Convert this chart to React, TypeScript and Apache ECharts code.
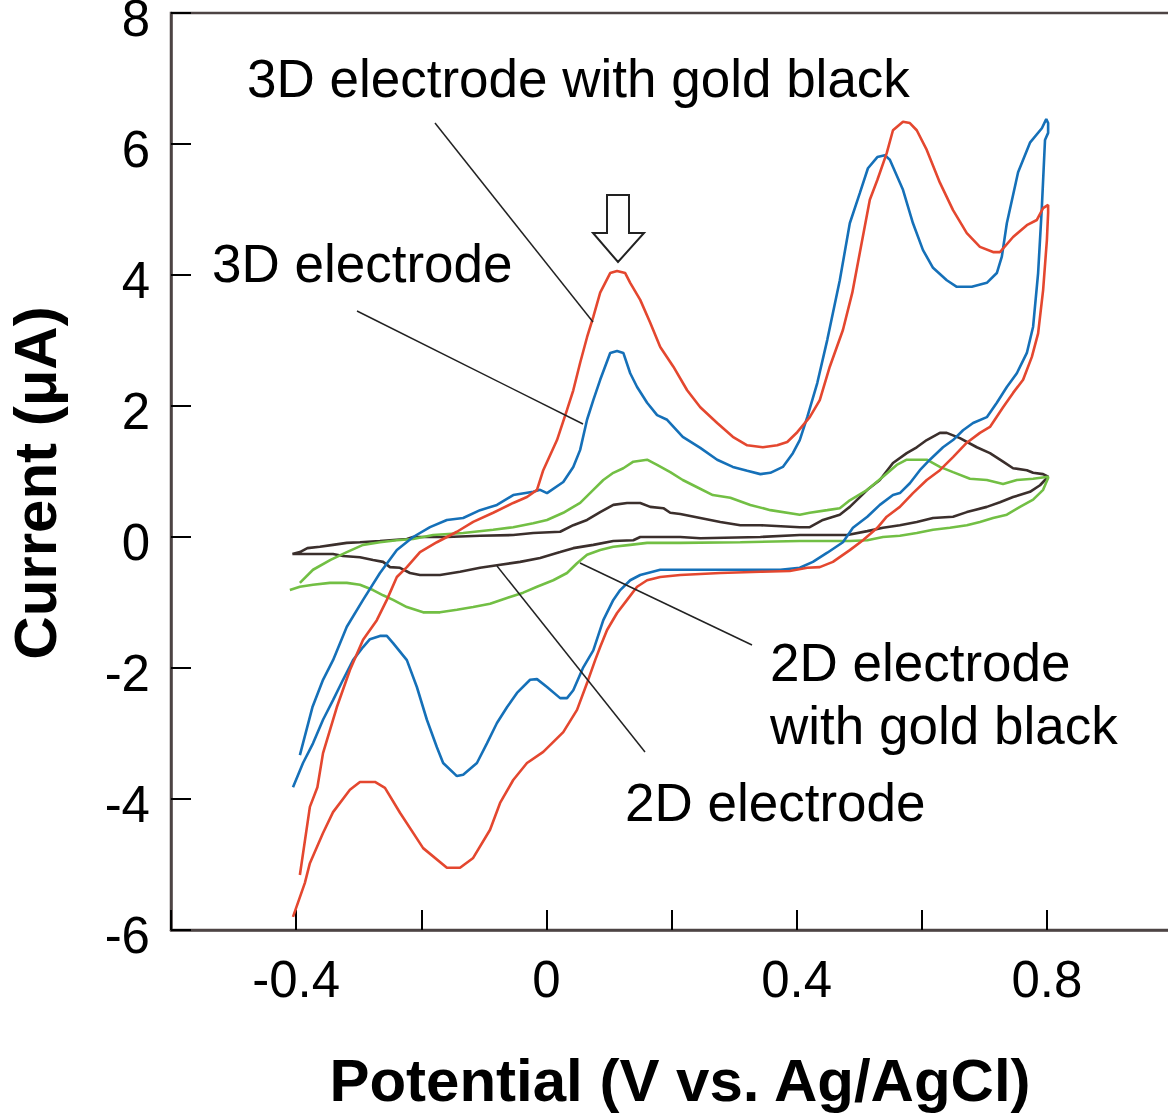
import React, { useEffect, useRef } from "react";
import * as echarts from "echarts";

// Potential (V) vs Current (µA) pairs, forward then reverse scan
const red3DGoldForward: number[][] = [[-0.394,-5.16],[-0.378,-4.12],[-0.366,-3.82],[-0.357,-3.30],[-0.335,-2.60],[-0.314,-2.03],[-0.293,-1.57],[-0.271,-1.27],[-0.255,-0.96],[-0.239,-0.61],[-0.223,-0.46],[-0.202,-0.23],[-0.175,-0.08],[-0.143,0.08],[-0.117,0.23],[-0.085,0.37],[-0.053,0.52],[-0.031,0.61],[-0.015,0.72],[-0.005,1.02],[0.017,1.48],[0.033,1.94],[0.043,2.24],[0.054,2.66],[0.065,3.05],[0.075,3.36],[0.086,3.73],[0.102,4.03],[0.113,4.06],[0.126,4.03],[0.134,3.88],[0.150,3.62],[0.166,3.27],[0.182,2.90],[0.203,2.60],[0.225,2.24],[0.246,1.98],[0.273,1.74],[0.298,1.53],[0.321,1.40],[0.346,1.37],[0.369,1.40],[0.385,1.45],[0.401,1.60],[0.421,1.83],[0.437,2.09],[0.453,2.60],[0.474,3.16],[0.489,3.73],[0.501,4.34],[0.517,5.15],[0.529,5.45],[0.544,5.86],[0.554,6.21],[0.570,6.34],[0.581,6.32],[0.592,6.21],[0.608,5.91],[0.629,5.41],[0.650,4.99],[0.672,4.64],[0.693,4.43],[0.714,4.35],[0.725,4.35],[0.746,4.58],[0.768,4.76],[0.784,4.84],[0.794,5.02],[0.802,5.07]];
const red3DGoldReverse: number[][] = [[0.802,4.95],[0.800,4.53],[0.794,3.77],[0.786,3.11],[0.776,2.75],[0.762,2.40],[0.746,2.20],[0.730,1.98],[0.709,1.68],[0.693,1.59],[0.672,1.44],[0.650,1.22],[0.629,1.02],[0.608,0.87],[0.586,0.67],[0.565,0.46],[0.544,0.31],[0.529,0.14],[0.506,-0.05],[0.485,-0.20],[0.458,-0.38],[0.437,-0.46],[0.417,-0.47],[0.389,-0.52],[0.342,-0.53],[0.278,-0.55],[0.214,-0.58],[0.182,-0.61],[0.161,-0.66],[0.145,-0.76],[0.129,-0.96],[0.113,-1.16],[0.097,-1.42],[0.086,-1.68],[0.078,-1.88],[0.065,-2.23],[0.049,-2.64],[0.027,-2.98],[-0.005,-3.28],[-0.031,-3.45],[-0.053,-3.71],[-0.074,-4.06],[-0.090,-4.47],[-0.117,-4.90],[-0.138,-5.05],[-0.159,-5.05],[-0.197,-4.75],[-0.234,-4.21],[-0.258,-3.83],[-0.274,-3.74],[-0.298,-3.74],[-0.314,-3.86],[-0.341,-4.20],[-0.357,-4.52],[-0.378,-4.98],[-0.386,-5.28],[-0.405,-5.80]];

const blue3DForward: number[][] = [[-0.394,-3.33],[-0.374,-2.60],[-0.357,-2.18],[-0.341,-1.88],[-0.319,-1.37],[-0.293,-0.96],[-0.266,-0.55],[-0.239,-0.20],[-0.213,0.00],[-0.186,0.15],[-0.159,0.26],[-0.133,0.29],[-0.106,0.41],[-0.079,0.49],[-0.053,0.64],[-0.021,0.69],[-0.010,0.72],[0.001,0.67],[0.027,0.84],[0.043,1.07],[0.054,1.33],[0.065,1.79],[0.075,2.09],[0.086,2.40],[0.102,2.81],[0.113,2.84],[0.123,2.81],[0.134,2.50],[0.145,2.29],[0.161,2.05],[0.177,1.86],[0.193,1.79],[0.218,1.53],[0.246,1.36],[0.273,1.18],[0.298,1.07],[0.321,1.01],[0.342,0.96],[0.358,0.98],[0.378,1.07],[0.394,1.28],[0.405,1.48],[0.417,1.83],[0.433,2.35],[0.449,3.01],[0.469,3.92],[0.485,4.79],[0.501,5.25],[0.514,5.63],[0.529,5.80],[0.541,5.83],[0.549,5.76],[0.570,5.30],[0.586,4.79],[0.602,4.38],[0.618,4.11],[0.640,3.92],[0.656,3.82],[0.680,3.82],[0.704,3.88],[0.720,4.03],[0.728,4.28],[0.736,4.79],[0.754,5.57],[0.773,6.02],[0.792,6.24],[0.799,6.38],[0.802,6.32]];
const blue3DReverse: number[][] = [[0.802,6.17],[0.797,6.06],[0.792,5.04],[0.786,4.03],[0.778,3.21],[0.768,2.81],[0.752,2.50],[0.736,2.29],[0.720,2.05],[0.704,1.83],[0.682,1.74],[0.666,1.63],[0.650,1.48],[0.634,1.37],[0.613,1.18],[0.597,1.02],[0.581,0.82],[0.565,0.67],[0.554,0.64],[0.533,0.49],[0.513,0.31],[0.490,0.14],[0.474,-0.08],[0.449,-0.24],[0.426,-0.38],[0.405,-0.47],[0.374,-0.50],[0.310,-0.50],[0.246,-0.50],[0.214,-0.50],[0.182,-0.50],[0.150,-0.58],[0.134,-0.66],[0.118,-0.81],[0.107,-0.96],[0.091,-1.27],[0.075,-1.73],[0.059,-1.99],[0.043,-2.34],[0.033,-2.46],[0.022,-2.46],[0.001,-2.29],[-0.015,-2.17],[-0.026,-2.18],[-0.047,-2.38],[-0.063,-2.60],[-0.079,-2.84],[-0.095,-3.15],[-0.111,-3.45],[-0.133,-3.63],[-0.143,-3.65],[-0.165,-3.45],[-0.175,-3.21],[-0.191,-2.79],[-0.207,-2.29],[-0.223,-1.88],[-0.245,-1.62],[-0.255,-1.51],[-0.266,-1.51],[-0.282,-1.56],[-0.293,-1.68],[-0.309,-1.88],[-0.325,-2.18],[-0.341,-2.49],[-0.357,-2.79],[-0.373,-3.15],[-0.389,-3.45],[-0.405,-3.82]];

const green2DGoldForward: number[][] = [[-0.394,-0.70],[-0.373,-0.50],[-0.345,-0.35],[-0.319,-0.23],[-0.293,-0.12],[-0.266,-0.08],[-0.239,-0.05],[-0.213,-0.03],[-0.181,0.03],[-0.133,0.06],[-0.085,0.11],[-0.053,0.15],[-0.021,0.21],[0.001,0.26],[0.027,0.37],[0.054,0.52],[0.075,0.72],[0.091,0.87],[0.107,0.98],[0.123,1.05],[0.139,1.15],[0.161,1.18],[0.177,1.10],[0.198,0.99],[0.218,0.87],[0.241,0.76],[0.266,0.64],[0.294,0.60],[0.326,0.49],[0.358,0.41],[0.405,0.34],[0.421,0.37],[0.449,0.41],[0.469,0.44],[0.485,0.56],[0.513,0.72],[0.538,0.92],[0.560,1.10],[0.576,1.18],[0.608,1.18],[0.629,1.07],[0.650,0.99],[0.677,0.89],[0.704,0.87],[0.730,0.81],[0.752,0.87],[0.778,0.89],[0.802,0.92]];
const green2DGoldReverse: number[][] = [[0.802,0.90],[0.794,0.72],[0.778,0.57],[0.757,0.46],[0.736,0.34],[0.714,0.29],[0.693,0.23],[0.672,0.18],[0.645,0.14],[0.618,0.11],[0.592,0.06],[0.565,0.02],[0.538,0.00],[0.513,-0.05],[0.485,-0.06],[0.405,-0.06],[0.310,-0.08],[0.214,-0.09],[0.161,-0.09],[0.134,-0.12],[0.107,-0.15],[0.086,-0.20],[0.065,-0.27],[0.049,-0.40],[0.033,-0.55],[0.011,-0.66],[-0.015,-0.76],[-0.037,-0.85],[-0.063,-0.93],[-0.090,-1.02],[-0.117,-1.07],[-0.143,-1.11],[-0.170,-1.15],[-0.197,-1.15],[-0.223,-1.07],[-0.245,-0.96],[-0.261,-0.89],[-0.277,-0.81],[-0.298,-0.73],[-0.319,-0.70],[-0.346,-0.70],[-0.373,-0.73],[-0.394,-0.76],[-0.410,-0.81]];

const brown2DForward: number[][] = [[-0.406,-0.26],[-0.394,-0.23],[-0.382,-0.17],[-0.362,-0.15],[-0.341,-0.12],[-0.319,-0.09],[-0.298,-0.08],[-0.266,-0.06],[-0.223,-0.03],[-0.213,0.00],[-0.159,0.00],[-0.106,0.02],[-0.053,0.03],[-0.021,0.06],[0.022,0.08],[0.043,0.18],[0.065,0.26],[0.086,0.38],[0.107,0.49],[0.129,0.52],[0.150,0.52],[0.166,0.46],[0.187,0.44],[0.198,0.37],[0.214,0.35],[0.246,0.29],[0.278,0.23],[0.310,0.18],[0.342,0.18],[0.405,0.15],[0.421,0.15],[0.442,0.26],[0.469,0.34],[0.485,0.46],[0.513,0.72],[0.533,0.87],[0.554,1.13],[0.576,1.28],[0.592,1.37],[0.608,1.48],[0.629,1.59],[0.640,1.59],[0.661,1.51],[0.688,1.37],[0.709,1.28],[0.730,1.15],[0.746,1.05],[0.768,1.02],[0.778,0.98],[0.794,0.96],[0.802,0.92]];
const brown2DReverse: number[][] = [[0.802,0.92],[0.789,0.79],[0.773,0.69],[0.746,0.61],[0.725,0.53],[0.704,0.46],[0.672,0.38],[0.650,0.31],[0.618,0.29],[0.592,0.23],[0.565,0.18],[0.538,0.14],[0.513,0.09],[0.481,0.03],[0.405,0.03],[0.342,0.00],[0.246,-0.02],[0.214,0.00],[0.150,0.00],[0.139,-0.05],[0.107,-0.06],[0.075,-0.12],[0.043,-0.17],[0.022,-0.23],[-0.010,-0.32],[-0.042,-0.38],[-0.079,-0.43],[-0.106,-0.47],[-0.138,-0.53],[-0.170,-0.58],[-0.202,-0.58],[-0.218,-0.55],[-0.234,-0.47],[-0.250,-0.46],[-0.261,-0.38],[-0.277,-0.35],[-0.298,-0.31],[-0.325,-0.29],[-0.341,-0.26],[-0.373,-0.26],[-0.406,-0.26]];

const xTickLabels = ["-0.4", "0", "0.4", "0.8"];
const seriesNames = ["2D electrode", "2D electrode with gold black", "3D electrode", "3D electrode with gold black"];
const seriesColors = ["#3b2f2c", "#72bf44", "#1570b8", "#e4472f"];

const FONT = "'Liberation Sans', Arial, Helvetica, sans-serif";

export default function App() {
  const ref = useRef<HTMLDivElement>(null);
  useEffect(() => {
    if (!ref.current) return;
    const chart = echarts.init(ref.current, null, { renderer: "svg" });
    const curves = [
      brown2DForward.concat(brown2DReverse),
      green2DGoldForward.concat(green2DGoldReverse),
      blue3DForward.concat(blue3DReverse),
      red3DGoldForward.concat(red3DGoldReverse),
    ];
    const ann = { fontSize: 53, fill: "#000", fontFamily: FONT };
    const lineStyle = { stroke: "#222", lineWidth: 1.5 };
    chart.setOption({
      animation: false,
      backgroundColor: "#fff",
      grid: {
        left: 171, top: 13, right: 3, bottom: 186,
        outerBoundsMode: "none",
        containLabel: false,
        show: true, borderColor: "#4d4444", borderWidth: 2.5,
      },
      xAxis: {
        type: "value", min: -0.6, max: 1.0, interval: 0.2,
        axisLine: { onZero: false, lineStyle: { color: "#4d4444", width: 2.5 } },
        axisTick: { inside: true, length: 20, lineStyle: { color: "#000", width: 2 } },
        splitLine: { show: false },
        axisLabel: {
          margin: 24, fontSize: 51, color: "#000", fontFamily: FONT,
          formatter: (v: number) => {
            const s = String(Math.round(v * 10) / 10);
            return xTickLabels.includes(s) ? s : "";
          },
        },
      },
      yAxis: {
        type: "value", min: -6, max: 8, interval: 2,
        axisLine: { onZero: false, lineStyle: { color: "#4d4444", width: 2.5 } },
        axisTick: { inside: true, length: 20, lineStyle: { color: "#000", width: 2 } },
        splitLine: { show: false },
        axisLabel: {
          margin: 21, fontSize: 51, color: "#000", fontFamily: FONT,
          verticalAlign: "top", lineHeight: 10,
        },
      },
      series: curves.map((d, i) => ({
        name: seriesNames[i],
        type: "line",
        data: d,
        showSymbol: false,
        symbol: "none",
        lineStyle: { color: seriesColors[i], width: 2.6 },
        z: 2 + i,
      })),
      graphic: [
        { type: "text", x: 35, y: 483, rotation: Math.PI / 2, style: { text: "Current (μA)", fontSize: 60, fontWeight: "bold", fill: "#000", fontFamily: FONT, align: "center", verticalAlign: "middle" } },
        { type: "text", x: 680, y: 1080, style: { text: "Potential (V vs. Ag/AgCl)", fontSize: 60, fontWeight: "bold", fill: "#000", fontFamily: FONT, align: "center", verticalAlign: "middle" } },
        { type: "text", x: 247, y: 78, style: { ...ann, text: "3D electrode with gold black", verticalAlign: "middle" } },
        { type: "text", x: 212, y: 263, style: { ...ann, text: "3D electrode", verticalAlign: "middle" } },
        { type: "text", x: 770, y: 662, style: { ...ann, text: "2D electrode", verticalAlign: "middle" } },
        { type: "text", x: 770, y: 725, style: { ...ann, text: "with gold black", verticalAlign: "middle" } },
        { type: "text", x: 625, y: 802, style: { ...ann, text: "2D electrode", verticalAlign: "middle" } },
        { type: "line", shape: { x1: 435, y1: 123, x2: 593, y2: 322 }, style: lineStyle, z: 10 },
        { type: "line", shape: { x1: 357, y1: 311, x2: 583, y2: 424 }, style: lineStyle, z: 10 },
        { type: "line", shape: { x1: 752, y1: 645, x2: 580, y2: 563 }, style: lineStyle, z: 10 },
        { type: "line", shape: { x1: 497, y1: 566, x2: 645, y2: 752 }, style: lineStyle, z: 10 },
        {
          type: "polygon",
          shape: { points: [[607, 195], [629, 195], [629, 233], [644, 233], [618, 262], [593, 233], [607, 233]] },
          style: { fill: "#fff", stroke: "#222", lineWidth: 2 },
          z: 10,
        },
      ],
    });
    return () => chart.dispose();
  }, []);
  return (
    <div style={{ position: "absolute", left: 0, top: 0, width: 1168, height: 1116, overflow: "hidden" }}>
      <div ref={ref} style={{ width: 1175, height: 1116 }} />
    </div>
  );
}
